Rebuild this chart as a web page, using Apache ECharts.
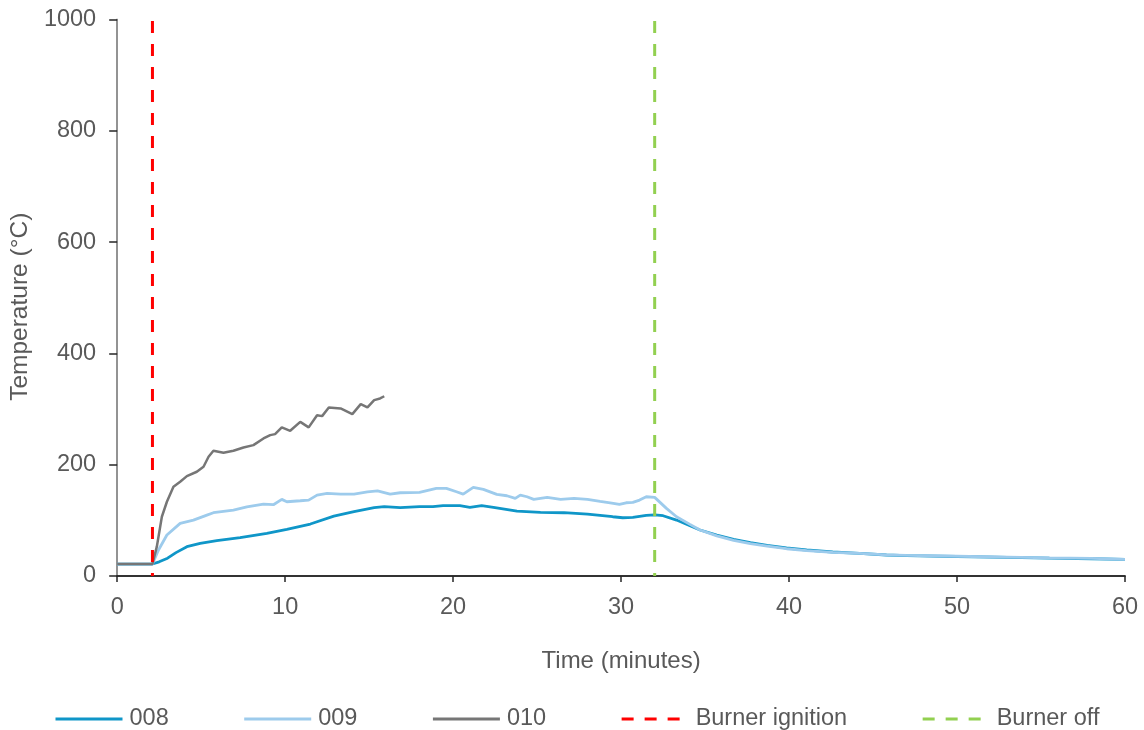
<!DOCTYPE html>
<html>
<head>
<meta charset="utf-8">
<script src="https://cdn.jsdelivr.net/npm/echarts@6/dist/echarts.min.js"></script>
<style>html,body{margin:0;padding:0;background:#fff;}#c{width:1144px;height:730px;}</style>
</head>
<body>
<div id="c"></div>
<script>
// ---- data (minutes, °C) ----
const t008 = [0, 2.1, 2.5, 3.0, 3.5, 4.15, 4.94, 5.93, 7.32, 8.91, 10.1, 11.5, 12.9, 14.1, 15.3, 15.9, 16.85, 18.0, 18.8, 19.4, 20.4, 21.0, 21.7, 22.4, 23.8, 25.2, 26.6, 28.0, 29.5, 30.1, 30.7, 31.5, 32.0, 32.5, 33.3, 34.1, 34.7, 35.7, 36.7, 37.7, 38.7, 39.85, 41.05, 42.6, 44.2, 45.8, 47.0, 50.0, 53.0, 55.5, 58.0, 60.0];
const v008 = [21.5, 21.5, 25.5, 32, 42, 52.7, 58.6, 63.4, 68.8, 76.6, 83.8, 93.4, 107.7, 115.5, 122.7, 124.5, 122.7, 124.5, 124.5, 126.3, 126.3, 123.3, 126.3, 123.3, 116.7, 114.3, 113.7, 111.3, 106.5, 104.7, 105.3, 109, 110, 108.3, 100.5, 90.3, 82.6, 73.6, 65.8, 59.8, 55.1, 50.3, 46.7, 43.1, 40.7, 37.7, 36.5, 35, 33.5, 32, 31, 30];

const t009 = [0, 2.1, 2.46, 2.96, 3.75, 4.54, 5.34, 5.73, 6.92, 7.72, 8.71, 9.30, 9.8, 10.1, 10.9, 11.4, 11.9, 12.5, 13.3, 14.1, 14.9, 15.5, 16.25, 16.85, 18.0, 19.0, 19.6, 20.2, 20.6, 21.2, 21.8, 22.6, 23.2, 23.7, 24.0, 24.4, 24.8, 25.6, 26.4, 27.2, 28.0, 28.75, 29.35, 29.9, 30.3, 30.7, 31.1, 31.5, 32.0, 32.7, 33.3, 34.1, 34.7, 35.7, 36.7, 37.7, 38.7, 39.85, 41.05, 42.6, 44.2, 45.8, 47.0, 50.0, 53.0, 55.5, 58.0, 60.0];
const v009 = [21.5, 21.5, 46.7, 73.6, 94.6, 100.5, 109.5, 113.7, 118.5, 124.4, 129.3, 128.1, 137.7, 133.4, 135.2, 136.4, 145.4, 148.5, 147.2, 147.2, 151.3, 153.1, 147.2, 149.6, 150.2, 157.4, 157.4, 151.4, 147.2, 159.2, 155.6, 146.7, 144.2, 139.5, 145.4, 142.4, 137.7, 141.3, 137.7, 139.5, 137.7, 134.1, 131.6, 128.7, 131.6, 132.3, 136.4, 142.4, 141.3, 121.5, 106.5, 92.8, 82.6, 72, 64, 58, 53.5, 49, 45.5, 42.5, 40.5, 38, 37, 35.5, 34, 32.5, 31.5, 30];

const t010 = [0, 2.1, 2.36, 2.66, 2.96, 3.35, 3.75, 4.15, 4.74, 5.14, 5.44, 5.73, 6.33, 6.92, 7.52, 8.11, 8.71, 9.11, 9.4, 9.8, 10.3, 10.9, 11.4, 11.9, 12.2, 12.6, 13.3, 14.0, 14.5, 14.9, 15.3, 15.65, 15.9];
const v010 = [21.5, 21.5, 52.7, 106.5, 133.4, 160.3, 169.3, 179.5, 187.3, 196.3, 214.2, 225, 221.4, 225, 231, 235.2, 247.2, 253.1, 254.9, 267, 260.9, 277, 267, 289, 287.3, 302.9, 301, 290.8, 308.8, 302.9, 316, 319, 323];

const ignitionTime = 2.1;
const burnerOffTime = 32.0;
const seriesNames = ['008', '009', '010', 'Burner ignition', 'Burner off'];
const xTicks = [0, 60, 10];   // min, max, interval
const yTicks = [0, 1000, 200];

const zip = (a, b) => a.map((x, i) => [x, b[i]]);
const vline = t => [[t, yTicks[0]], [t, yTicks[1]]];

const FONT = '"Liberation Sans", Arial, sans-serif';
const TXT = '#595959';
const AX = '#262626';
const DASH = [12, 11];

const legendData = seriesNames.map((n, i) => i < 3
  ? {name: n, itemStyle: {opacity: 0}, lineStyle: {width: 3}}
  : {name: n, itemStyle: {opacity: 0}, lineStyle: {width: 3, type: DASH, dashOffset: 0}});

const chart = echarts.init(document.getElementById('c'), null, {renderer: 'canvas'});
chart.setOption({
  animation: false,
  backgroundColor: '#fff',
  textStyle: {fontFamily: FONT},
  grid: {left: 117, right: 19, top: 19.5, bottom: 154, containLabel: false},
  legend: {
    data: legendData,
    left: 49, top: 702,
    itemWidth: 67, itemHeight: 14, itemGap: 74,
    itemStyle: {opacity: 0},
    textStyle: {fontSize: 23.5, color: TXT, fontFamily: FONT, padding: [0, 0, 0, 2]}
  },
  xAxis: [{
    type: 'value', min: xTicks[0], max: xTicks[1], interval: xTicks[2],
    name: 'Time (minutes)', nameLocation: 'middle', nameGap: 73,
    nameTextStyle: {fontSize: 24, color: TXT, fontFamily: FONT},
    axisLine: {show: true, onZero: false, lineStyle: {color: AX, width: 1.5}},
    axisTick: {show: true, length: 6, lineStyle: {color: AX, width: 1.5}},
    axisLabel: {fontSize: 23.5, color: TXT, margin: 20, fontFamily: FONT},
    splitLine: {show: false}
  }, {
    type: 'value', position: 'top', min: xTicks[0], max: xTicks[1],
    axisLine: {show: true, lineStyle: {color: AX, width: 1.5}},
    axisTick: {show: false}, axisLabel: {show: false}, splitLine: {show: false}
  }],
  yAxis: [{
    type: 'value', min: yTicks[0], max: yTicks[1], interval: yTicks[2],
    name: 'Temperature (°C)', nameLocation: 'middle', nameGap: 80,
    nameTextStyle: {fontSize: 24.5, color: TXT, fontFamily: FONT, padding: [0, 18, 0, 0]},
    axisLine: {show: true, onZero: false, lineStyle: {color: AX, width: 1.5}},
    axisTick: {show: true, length: 8, lineStyle: {color: AX, width: 1.5}},
    axisLabel: {fontSize: 23.5, color: TXT, margin: 21, fontFamily: FONT, formatter: v => String(v)},
    splitLine: {show: false}
  }, {
    type: 'value', position: 'right', min: yTicks[0], max: yTicks[1],
    axisLine: {show: true, lineStyle: {color: '#a6a6a6', width: 1.5}},
    axisTick: {show: false}, axisLabel: {show: false}, splitLine: {show: false}
  }],
  series: [
    {name: seriesNames[0], type: 'line', data: zip(t008, v008), symbol: 'none',
     lineStyle: {color: '#0F96C8', width: 2.8}, itemStyle: {color: '#0F96C8'}},
    {name: seriesNames[1], type: 'line', data: zip(t009, v009), symbol: 'none',
     lineStyle: {color: '#9DCBEC', width: 2.8}, itemStyle: {color: '#9DCBEC'}},
    {name: seriesNames[2], type: 'line', data: zip(t010, v010), symbol: 'none',
     lineStyle: {color: '#767676', width: 2.5}, itemStyle: {color: '#767676'}},
    {name: seriesNames[3], type: 'line', data: vline(ignitionTime), symbol: 'none',
     lineStyle: {color: '#FF0000', width: 3, type: DASH, dashOffset: 9}, itemStyle: {color: '#FF0000'}},
    {name: seriesNames[4], type: 'line', data: vline(burnerOffTime), symbol: 'none',
     lineStyle: {color: '#92D050', width: 3, type: DASH, dashOffset: 9}, itemStyle: {color: '#92D050'}}
  ]
});
</script>
</body>
</html>
